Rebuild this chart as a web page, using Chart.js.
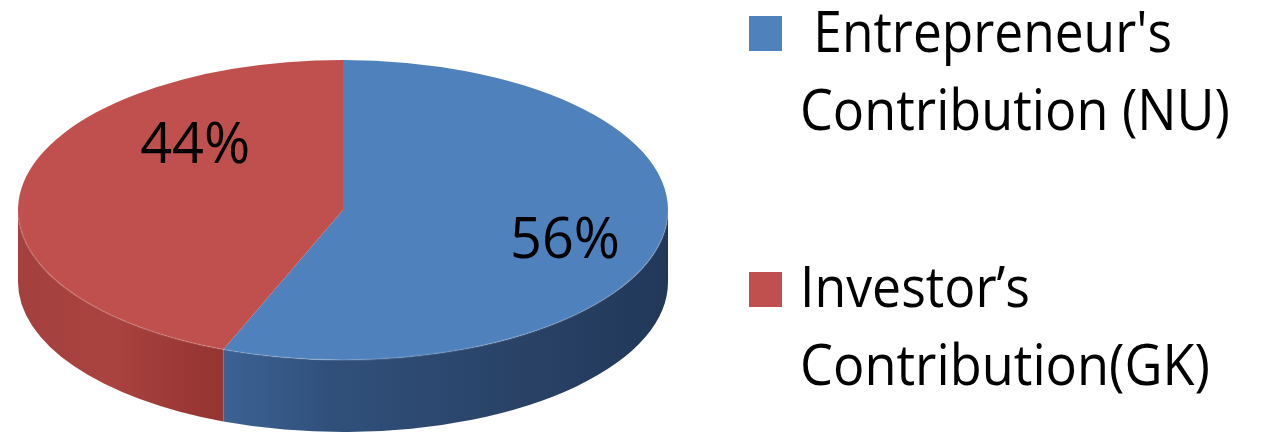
<!DOCTYPE html>
<html>
<head>
<meta charset="utf-8">
<script src="https://cdn.jsdelivr.net/npm/chart.js@4/dist/chart.umd.min.js"></script>
<style>
  html, body { margin: 0; padding: 0; background: #ffffff; overflow: hidden; }
  #wrap { position: relative; width: 1278px; height: 441px; }
  canvas { display: block; }
</style>
</head>
<body>
<div id="wrap"><canvas id="c" width="1278" height="441"></canvas></div>
<script>
// ---- data ----
const categories = ["Entrepreneur's Contribution (NU)", "Investor’s Contribution(GK)"];
const legendLines = [[" Entrepreneur's", "Contribution (NU)"], ["Investor’s", "Contribution(GK)"]];
const shares = [56, 44];
const percentLabels = ["56%", "44%"];

// ---- styles ----
const topColors = ['#4f81bd', '#c0504d'];
const sideStops = [
  [[213, '#3d6496'], [330, '#30507b'], [520, '#294266'], [668, '#213859']],
  [[18, '#a3403d'], [110, '#a9433f'], [213, '#963532']]
];
const FONT = '"Open Sans", "Liberation Sans", sans-serif';
const CX = 343, CY = 210, RX = 325, RY = 150, DEPTH = 72;

const pie3d = {
  id: 'pie3d',
  beforeDatasetsDraw(chart) {
    const ctx = chart.ctx;
    const meta = chart.getDatasetMeta(0);
    const first = meta.data[0];
    const cx = first.x, cy = first.y, r = first.outerRadius;
    const sx = RX / r;
    chart.$ell = { cx, cy, rx: RX, ry: r };
    // side walls (front half of the ellipse only)
    meta.data.forEach((arc, i) => {
      const a0 = Math.max(arc.startAngle, 0);
      const a1 = Math.min(arc.endAngle, Math.PI);
      if (a1 <= a0) return;
      const g = ctx.createLinearGradient(CX - RX, 0, CX + RX, 0);
      sideStops[i].forEach(([x, c]) => g.addColorStop(Math.min(1, Math.max(0, (x - (CX - RX)) / (2 * RX))), c));
      ctx.save();
      ctx.beginPath();
      ctx.ellipse(cx, cy, RX, r, 0, a0, a1, false);
      ctx.lineTo(cx + RX * Math.cos(a1), cy + DEPTH + r * Math.sin(a1));
      ctx.ellipse(cx, cy + DEPTH, RX, r, 0, a1, a0, true);
      ctx.closePath();
      ctx.fillStyle = g;
      ctx.fill();
      ctx.restore();
    });
    // stretch the top face horizontally into an ellipse
    ctx.save();
    ctx.translate(cx, 0);
    ctx.scale(sx, 1);
    ctx.translate(-cx, 0);
  },
  afterDatasetsDraw(chart) {
    const ctx = chart.ctx;
    ctx.restore();
    const e = chart.$ell;
    // subtle rim highlight on front edge
    ctx.save();
    ctx.beginPath();
    ctx.ellipse(e.cx, e.cy, e.rx, e.ry, 0, 0.05, Math.PI - 0.05, false);
    ctx.strokeStyle = 'rgba(255,255,255,0.12)';
    ctx.lineWidth = 2;
    ctx.stroke();
    ctx.restore();
  },
  afterDraw(chart) {
    const ctx = chart.ctx;
    const e = chart.$ell;
    ctx.save();
    ctx.fillStyle = '#000000';
    ctx.font = '57px ' + FONT;
    ctx.textAlign = 'center';
    ctx.textBaseline = 'alphabetic';
    // percentage labels, placed in ellipse-relative units
    const labelPlace = [[0.683, 0.32], [-0.455, -0.313]];
    percentLabels.forEach((t, i) => {
      const [u, v] = labelPlace[i];
      ctx.fillText(t, e.cx + e.rx * u, e.cy + e.ry * v, 110);
    });
    // legend
    ctx.textAlign = 'left';
    const legend = [
      { box: [749, 16], lines: [[800, 52, 372], [800, 130, 430]] },
      { box: [749, 272], lines: [[800, 307, 230], [800, 385, 410]] }
    ];
    legend.forEach((L, i) => {
      ctx.fillStyle = topColors[i];
      ctx.fillRect(L.box[0], L.box[1], 33, 35);
      ctx.fillStyle = '#000000';
      legendLines[i].forEach((txt, j) => {
        const [x, y, w] = L.lines[j];
        ctx.fillText(txt, x, y, w);
      });
    });
    ctx.restore();
  }
};

new Chart(document.getElementById('c'), {
  type: 'pie',
  data: {
    labels: categories,
    datasets: [{
      data: shares,
      backgroundColor: topColors,
      borderWidth: 0,
      clip: false
    }]
  },
  options: {
    responsive: false,
    animation: false,
    devicePixelRatio: 1,
    layout: { padding: { left: CX - RY, right: 1278 - (CX + RY), top: CY - RY, bottom: 441 - (CY + RY) } },
    plugins: { legend: { display: false }, tooltip: { enabled: false } }
  },
  plugins: [pie3d]
});
</script>
</body>
</html>
